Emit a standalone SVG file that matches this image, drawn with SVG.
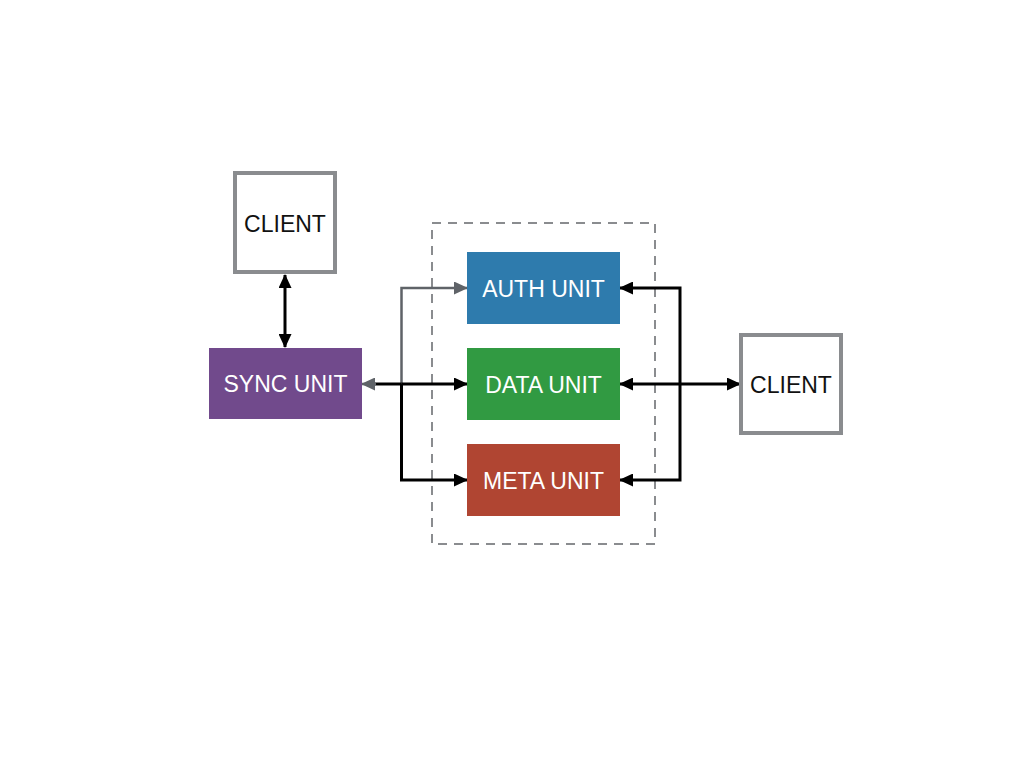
<svg xmlns="http://www.w3.org/2000/svg" width="1024" height="768" viewBox="0 0 1024 768">
<style>
.client{fill:#ffffff;stroke:#8a8c8f;stroke-width:4}
.lbl{font-family:"Liberation Sans",Arial,sans-serif;font-size:23px;text-anchor:middle}
.dark{fill:#111111}
.light{fill:#ffffff}
.k{fill:none;stroke:#000000;stroke-width:3}
.g{fill:none;stroke:#5f6368;stroke-width:2.5}
</style>
<defs>
<marker id="ak" viewBox="0 0 14 13" refX="13" refY="6.5" markerWidth="14" markerHeight="13" markerUnits="userSpaceOnUse" orient="auto-start-reverse">
<path d="M0,0 L14,6.5 L0,13 Z" fill="#000000"/>
</marker>
<marker id="ag" viewBox="0 0 14 13" refX="13" refY="6.5" markerWidth="14" markerHeight="13" markerUnits="userSpaceOnUse" orient="auto-start-reverse">
<path d="M0,0 L14,6.5 L0,13 Z" fill="#5f6368"/>
</marker>
</defs>
<rect width="1024" height="768" fill="#ffffff"/>
<g id="group-box">
<rect x="432" y="223" width="223" height="321" fill="none" stroke="#8a8c8f" stroke-width="2" stroke-dasharray="9,7"/>
</g>
<g id="connectors">
<line x1="285" y1="275" x2="285" y2="347" class="k" marker-start="url(#ak)" marker-end="url(#ak)"/>
<polyline points="401.5,384 401.5,288 467,288" class="g" marker-end="url(#ag)"/>
<line x1="401.5" y1="384" x2="374" y2="384" class="k"/>
<line x1="376" y1="384" x2="362" y2="384" class="g" marker-end="url(#ag)"/>
<line x1="401.5" y1="384" x2="467" y2="384" class="k" marker-end="url(#ak)"/>
<polyline points="401.5,384 401.5,480 467,480" class="k" marker-end="url(#ak)"/>
<polyline points="620,288 680,288 680,480 620,480" class="k" marker-start="url(#ak)" marker-end="url(#ak)"/>
<line x1="620" y1="384" x2="740" y2="384" class="k" marker-start="url(#ak)" marker-end="url(#ak)"/>
</g>
<g id="client-top">
<rect x="235" y="173" width="100" height="99" class="client"/>
<text x="285" y="232" class="lbl dark">CLIENT</text>
</g>
<g id="sync-unit">
<rect x="209" y="348" width="153" height="71" fill="#714a8c"/>
<text x="285.5" y="392" class="lbl light">SYNC UNIT</text>
</g>
<g id="auth-unit">
<rect x="467" y="252" width="153" height="72" fill="#2e7bad"/>
<text x="543.5" y="296.5" class="lbl light">AUTH UNIT</text>
</g>
<g id="data-unit">
<rect x="467" y="348" width="153" height="72" fill="#319a42"/>
<text x="543.5" y="392.5" class="lbl light">DATA UNIT</text>
</g>
<g id="meta-unit">
<rect x="467" y="444" width="153" height="72" fill="#b04532"/>
<text x="543.5" y="488.5" class="lbl light">META UNIT</text>
</g>
<g id="client-right">
<rect x="741" y="335" width="100" height="98" class="client"/>
<text x="791" y="392.5" class="lbl dark">CLIENT</text>
</g>
</svg>
